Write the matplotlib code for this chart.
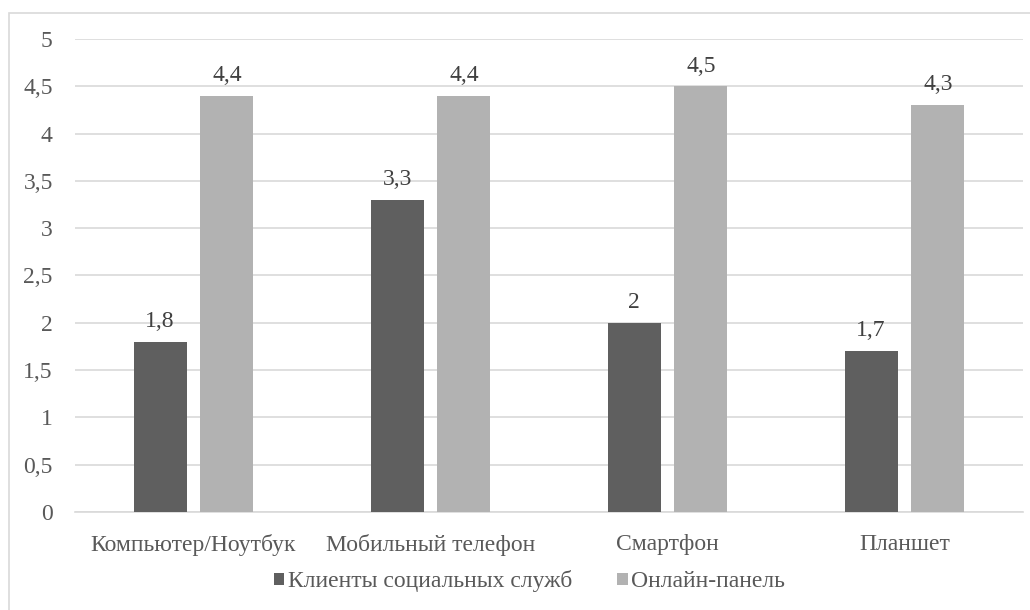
import matplotlib.pyplot as plt
import numpy as np
from matplotlib.patches import Rectangle

# device categories and mean scores for two groups
categories = ['Компьютер/Ноутбук', 'Мобильный телефон', 'Смартфон', 'Планшет']
clients = [1.8, 3.3, 2.0, 1.7]
online = [4.4, 4.4, 4.5, 4.3]
series_names = ['Клиенты социальных служб', 'Онлайн-панель']
yticks = [0, 0.5, 1, 1.5, 2, 2.5, 3, 3.5, 4, 4.5, 5]

plt.rcParams['font.family'] = ['Liberation Serif', 'DejaVu Serif']
text_col = '#595959'
fs = 17

def fmt(v):
  # comma as decimal separator, no trailing ",0"
  s = ('%g' % v)
  return s.replace('.', ',')

fig = plt.figure(figsize=(10.3, 6.1), dpi=100)
ax = fig.add_axes([0.0728, 0.1607, 0.9204, 0.7754])

# outer chart border (left and top edges visible)
fig.patches.append(Rectangle((9/1030, -0.1), 1.2, 1.1 - 13/610,
                             transform=fig.transFigure, fill=False,
                             edgecolor='#d9d9d9', linewidth=1.2))

x = np.arange(len(categories))
w = 0.224
off = 0.141
b1 = ax.bar(x - off, clients, w, color='#5f5f5f', label=series_names[0], zorder=3)
b2 = ax.bar(x + off, online, w, color='#b2b2b2', label=series_names[1], zorder=3)

for bars, vals in ((b1, clients), (b2, online)):
  for r, v in zip(bars, vals):
    ax.annotate(fmt(v), (r.get_x() + r.get_width()/2, v),
                xytext=(0, 7), textcoords='offset points',
                ha='center', va='bottom', fontsize=fs, color='#404040')

ax.set_xlim(-0.5, 3.5)
ax.set_ylim(0, 5)
ax.set_yticks(yticks)
ax.set_yticklabels([fmt(t) for t in yticks], fontsize=fs, color=text_col)
ax.set_xticks(x)
ax.set_xticklabels(categories, fontsize=fs, color=text_col)
ax.tick_params(axis='both', length=0)
ax.tick_params(axis='y', pad=16)
ax.tick_params(axis='x', pad=16)

ax.grid(axis='y', color='#d9d9d9', linewidth=1.2, zorder=0)
for s in ('top', 'right', 'left'):
  ax.spines[s].set_visible(False)
ax.spines['bottom'].set_color('#d9d9d9')
ax.spines['bottom'].set_linewidth(1.2)

leg = fig.legend(handles=[b1, b2], loc='center', bbox_to_anchor=(0.514, 0.047),
                 ncol=2, frameon=False, fontsize=fs, handlelength=0.45,
                 handleheight=0.45, handletextpad=0.15, columnspacing=1.9)
for t in leg.get_texts():
  t.set_color(text_col)

fig.savefig('out.png', dpi=100)
